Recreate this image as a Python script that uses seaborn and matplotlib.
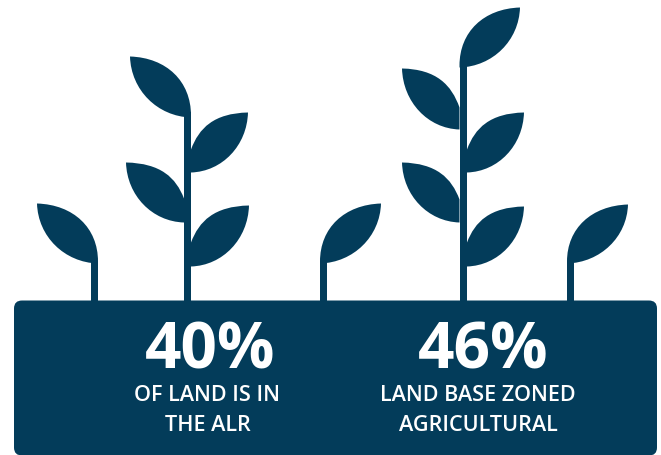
import matplotlib
matplotlib.use("Agg")
import matplotlib.pyplot as plt
import seaborn as sns
from matplotlib.patches import FancyBboxPatch, PathPatch
from matplotlib.path import Path

# Statistics shown in the panel
percent_labels = ["40%", "46%"]
caption_labels = ["OF LAND IS IN\nTHE ALR", "LAND BASE ZONED\nAGRICULTURAL"]
percent_centres = [210, 483]
caption_centres = [207.5, 478]

# Stems: left edge, right edge, top (pixel units of the canvas)
stem_left = [91, 184, 320, 459.5, 567]
stem_right = [98, 191, 327, 467, 574]
stem_top = [262, 112, 262, 66, 262]

# Leaves: tip x, tip y, stem-side x, y where the upper edge meets, y where the lower edge meets
leaf_tip_x = [37, 130, 126, 249, 248, 381, 520, 402, 402, 524, 524, 628]
leaf_tip_y = [204, 57, 163, 206, 113, 204, 8, 69, 163, 113, 207, 205]
leaf_join_x = [98, 191, 184, 191, 191, 320, 459.5, 459.5, 459.5, 467, 467, 567]
leaf_join_upper = [262, 116, 199, 243, 150, 262, 66, 108, 200, 150, 243, 262]
leaf_join_lower = [264, 118, 223, 267, 173, 264, 68, 130, 223, 173, 267, 264]

INK = "#033c5a"

sns.set_theme(style="white")
plt.rcParams["font.family"] = ["Open Sans", "DejaVu Sans"]

fig, ax = plt.subplots(figsize=(6.61, 4.56), dpi=100)
ax.set_position([0, 0, 1, 1])
ax.set_xlim(0, 661)
ax.set_ylim(455.5, -0.5)
ax.axis("off")
sns.despine(ax=ax, left=True, bottom=True)


def leaf_path(tx, ty, jx, upper, lower):
    """Pointed leaf whose two edges leave the tip at right angles and end on the stem."""
    sign = 1 if jx > tx else -1
    reach = abs(jx - tx)
    # Side leaves meet the stem at a slant, terminal leaves run into it
    slant = 0.14 if lower - upper > 10 else 0.0
    codes = [Path.MOVETO, Path.CURVE4, Path.CURVE4, Path.CURVE4,
             Path.LINETO, Path.CURVE4, Path.CURVE4, Path.CURVE4, Path.CLOSEPOLY]
    verts = [
        (tx, ty),
        (tx + sign * reach * 0.60, ty + (upper - ty) * 0.02),
        (jx - sign * reach * slant, ty + (upper - ty) * 0.42),
        (jx, upper),
        (jx, lower),
        (jx - sign * reach * 0.55, lower - 1),
        (tx + sign * 1, ty + (lower - ty) * 0.55),
        (tx, ty),
        (tx, ty),
    ]
    return Path(verts, codes)


# Planter panel
ax.add_patch(FancyBboxPatch((22, 309), 627, 139,
                            boxstyle="round,pad=8,rounding_size=8",
                            facecolor=INK, edgecolor="none", zorder=2))

# Stems
for left, right, top in zip(stem_left, stem_right, stem_top):
    ax.fill_between([left, right], top, 303, color=INK, linewidth=0, zorder=1)

# Leaves
for tx, ty, jx, up, lo in zip(leaf_tip_x, leaf_tip_y, leaf_join_x,
                              leaf_join_upper, leaf_join_lower):
    ax.add_patch(PathPatch(leaf_path(tx, ty, jx, up, lo),
                           facecolor=INK, edgecolor="none", zorder=1))

# Figures and captions
for px, cx, pct, cap in zip(percent_centres, caption_centres, percent_labels, caption_labels):
    ax.text(px, 352, pct, color="white", fontsize=46,
            fontweight="bold", ha="center", va="center", zorder=3)
    first, second = cap.split("\n")
    ax.text(cx, 395.5, first, color="white", fontsize=15.6, fontweight="semibold",
            ha="center", va="center", zorder=3)
    ax.text(cx, 425, second, color="white", fontsize=15.6, fontweight="semibold",
            ha="center", va="center", zorder=3)

fig.savefig("out.png", dpi=100)
